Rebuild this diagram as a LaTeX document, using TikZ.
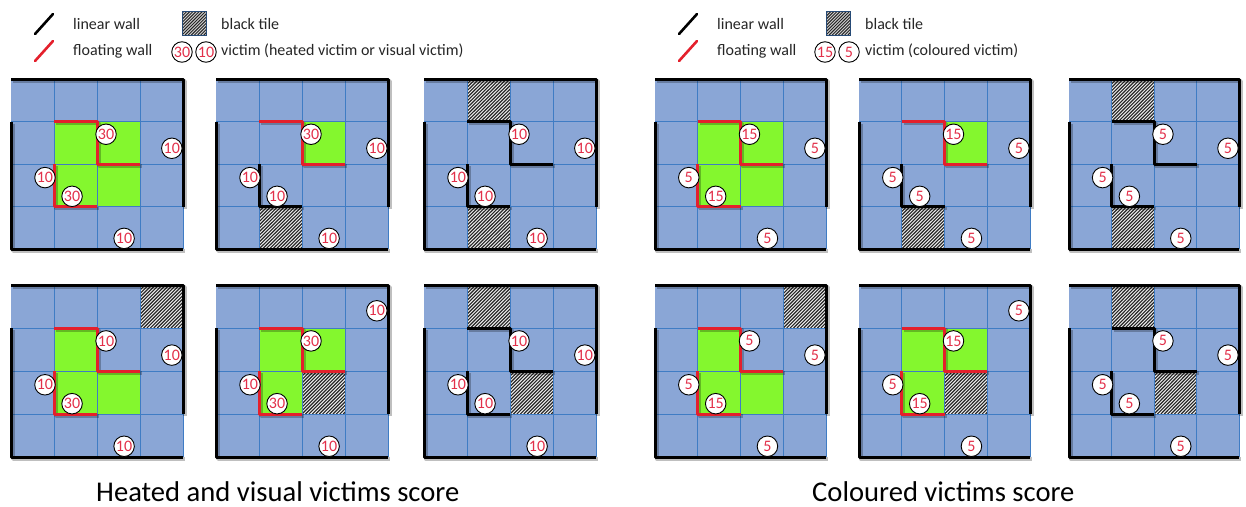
\documentclass[tikz,border=0pt]{standalone}
\usepackage{fontspec}
\setmainfont{Carlito}
\definecolor{tileblue}{HTML}{8AA6D6}
\definecolor{gridblue}{HTML}{3F7CC4}
\definecolor{zonegreen}{HTML}{84F72E}
\definecolor{wallred}{HTML}{E4202C}
\definecolor{victimred}{HTML}{E2304A}
\definecolor{inkgrey}{HTML}{262626}
\tikzset{
  wallline/.style={line width=3pt,line join=round},
  wallshadow/.style={line width=3.4pt,line join=round,black,opacity=.25,xshift=2pt,yshift=-2pt},
  victim/.style={circle,draw=black,line width=.9pt,fill=white,minimum size=20.5pt,inner sep=0pt,text=victimred,font=\fontsize{16}{17}\selectfont},
  legtext/.style={anchor=west,inner sep=0pt,text=inkgrey,font=\fontsize{16}{18}\selectfont},
  title/.style={anchor=west,inner sep=0pt,text=black,font=\fontsize{28.6}{31}\selectfont},
  gridline/.style={gridblue,line width=.8pt},
}
% green cell, black tile
\newcommand\gc[2]{\fill[zonegreen] (#1,#2) rectangle ++(1,1);}
\newcommand\tl[2]{\begin{scope}
  \clip (#1,#2) rectangle ++(1,1);
  \fill[black!6] (#1,#2) rectangle ++(1,1);
  \foreach \k in {-12,...,12}{\draw[inkgrey,line width=1.15pt] ({#1+\k*0.08},{#2+1}) -- ++(1,-1);}
  \end{scope}}
% board: ox, oy, xunit, yunit, cells, colour of wall A, colour of wall B, victims
\newcommand\board[8]{\begin{scope}[shift={(#1,#2)},x=#3pt,y=-#4pt]
  \fill[tileblue] (0,0) rectangle (4,4);
  #5
  \foreach \k in {1,2,3}{\draw[gridline] (\k,0) -- (\k,4); \draw[gridline] (0,\k) -- (4,\k);}
  \draw[gridline] (4,3) -- (4,4);
  \draw[wallshadow] (0,0) -- (4,0) -- (4,3);
  \draw[wallshadow] (0,1) -- (0,4) -- (4,4);
  \draw[wallshadow] (1,1) -- (2,1) -- (2,2) -- (3,2);
  \draw[wallshadow] (1,2) -- (1,3) -- (2,3);
  \draw[wallline] (0,0) -- (4,0) -- (4,3);
  \draw[wallline] (0,1) -- (0,4) -- (4,4);
  \draw[wallline,#6] (1,1) -- (2,1) -- (2,2) -- (3,2);
  \draw[wallline,#7] (1,2) -- (1,3) -- (2,3);
  #8
  \end{scope}}
% victims: id, first, fourth, small value, y of second
\newcommand\vics[5]{
  \node[victim] (#1a) at (2.21,1.3) {#2};
  \node[victim] (#1b) at (3.74,#5) {#4};
  \node[victim] (#1c) at (0.79,2.32) {#4};
  \node[victim] (#1d) at (1.42,2.76) {#3};
  \node[victim] (#1e) at (2.63,3.75) {#4};}
% legend
\newcommand\legend[4]{\begin{scope}[xshift=#1pt]
  \draw[black,line width=2.6pt,line cap=round] (35,34) -- (53,14);
  \draw[wallred,line width=2.6pt,line cap=round] (35,61) -- (53,41);
  \begin{scope}[shift={(182,11)},x=24pt,y=-24pt]
    \clip (0,0) rectangle (1,1);
    \fill[black!18] (0,0) rectangle (1,1);
    \foreach \k in {-8,...,8}{\draw[inkgrey,line width=1pt] ({\k*0.13},1) -- ++(1,-1);}
  \end{scope}
  \draw[gridblue!60!black,line width=.4pt] (182,11) rectangle (206,35);
  \node[legtext] (#2w) at (73,24) {linear wall};
  \node[legtext] (#2f) at (73,51) {floating wall};
  \node[legtext] (#2t) at (221,24) {black tile};
  #3
  \node[legtext] (#2v) at (221,51) {#4};
  \end{scope}}
\begin{document}
\begin{tikzpicture}[x=1pt,y=-1pt]
\useasboundingbox (0,0) rectangle (1246,506);
\fill[white] (0,0) rectangle (1246,506);
\legend{0}{l}{\node[victim] (l30) at (182,52) {30};\node[victim] (l10) at (206,52) {10};}{victim (heated victim or visual victim)}
\legend{644}{r}{\node[victim] (r15) at (181,52) {15};\node[victim] (r5) at (205,52) {5};}{victim (coloured victim)}

\board{11}{79}{43}{42.5}{\gc11\gc21\gc12\gc22}{wallred}{wallred}{\vics{p}{30}{30}{10}{1.63}}
\board{216}{79}{43}{42.5}{\gc21\tl13}{wallred}{black}{\vics{q}{30}{10}{10}{1.63}}
\board{424}{79}{43}{42.5}{\tl10\tl13}{black}{black}{\vics{s}{10}{10}{10}{1.63}}
\board{11}{285}{43}{43}{\gc11\gc12\gc22\tl30}{wallred}{wallred}{\vics{t}{10}{30}{10}{1.63}}
\board{216}{285}{43}{43}{\gc11\gc21\gc12\tl22}{wallred}{wallred}{\vics{u}{30}{30}{10}{0.6}}
\board{424}{285}{43}{43}{\tl10\tl22}{black}{black}{\vics{w}{10}{10}{10}{1.63}}

\board{655}{79}{42.75}{42.5}{\gc11\gc21\gc12\gc22}{wallred}{wallred}{\vics{pp}{15}{15}{5}{1.63}}
\board{859}{79}{42.75}{42.5}{\gc21\tl13}{wallred}{black}{\vics{qq}{15}{5}{5}{1.63}}
\board{1069}{79}{42.5}{42.5}{\tl10\tl13}{black}{black}{\vics{ss}{5}{5}{5}{1.63}}
\board{655}{285}{42.75}{43}{\gc11\gc12\gc22\tl30}{wallred}{wallred}{\vics{tt}{5}{15}{5}{1.63}}
\board{859}{285}{42.75}{43}{\gc11\gc21\gc12\tl22}{wallred}{wallred}{\vics{uu}{15}{15}{5}{0.6}}
\board{1069}{285}{42.5}{43}{\tl10\tl22}{black}{black}{\vics{ww}{5}{5}{5}{1.63}}

\node[title] (tl) at (96,491.5) {Heated and visual victims score};
\node[title] (tr) at (812,491.5) {Coloured victims score};
\end{tikzpicture}
\end{document}
